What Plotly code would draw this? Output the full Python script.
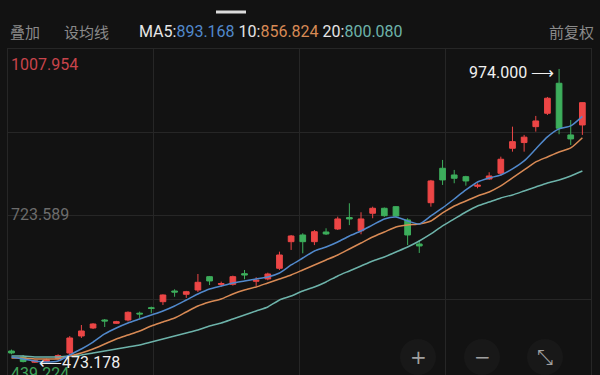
import plotly.graph_objects as go

# ---------------- data ----------------
idx = list(range(1, 51))
opens = [493.6, 483.4, 474.5, 475.8, 481.0, 490.2, 519.2, 532.8, 546.4, 540.8,
         546.4, 558.0, 567.4, 577.6, 595.8, 590.2, 597.5, 620.2, 607.0, 607.2,
         625.3, 612.4, 616.3, 634.5, 679.8, 691.2, 679.8, 696.3, 701.4, 720.9,
         698.5, 728.2, 736.7, 739.4, 716.8, 675.9, 746.2, 804.8, 793.4, 790.5,
         774.2, 786.6, 796.3, 838.9, 848.6, 875.7, 898.5, 949.6, 861.6, 878.6]
highs = [496.0, 486.8, 478.5, 480.5, 488.0, 519.0, 537.9, 541.0, 548.0, 545.0,
         561.0, 560.7, 569.2, 590.0, 598.7, 596.0, 624.8, 621.4, 611.7, 622.0,
         631.6, 619.2, 627.0, 662.8, 691.2, 694.1, 699.7, 702.6, 722.4, 745.2,
         729.9, 739.4, 738.0, 740.5, 719.7, 682.7, 785.0, 819.0, 802.0, 792.0,
         779.3, 798.0, 824.6, 875.7, 861.6, 894.0, 926.3, 974.0, 887.0, 917.0]
lows = [488.0, 474.2, 473.178, 474.5, 479.0, 486.8, 515.8, 531.0, 534.5, 540.0,
        544.0, 549.3, 557.9, 572.0, 586.0, 584.0, 594.0, 606.0, 603.0, 605.0,
        615.8, 604.4, 614.0, 631.6, 665.7, 660.0, 674.0, 691.2, 699.7, 708.0,
        692.4, 719.7, 722.0, 722.0, 674.0, 660.6, 739.4, 776.4, 779.3, 775.2,
        770.8, 785.0, 792.2, 833.1, 833.1, 867.2, 895.6, 862.8, 844.5, 861.6]
closes = [490.2, 475.6, 477.0, 478.6, 485.8, 515.8, 527.7, 539.6, 544.8, 543.5,
          559.5, 556.7, 566.0, 589.0, 594.0, 594.6, 610.6, 612.9, 608.5, 620.2,
          623.1, 614.1, 624.8, 657.1, 689.5, 679.8, 696.8, 692.9, 718.5, 718.5,
          718.5, 736.7, 724.1, 723.6, 691.2, 672.5, 783.2, 785.0, 787.8, 783.2,
          775.9, 791.7, 820.2, 850.2, 857.8, 885.4, 924.1, 873.0, 854.8, 916.6]

ma5 = [483.4, 480.0, 476.6, 474.9, 476.6, 486.8, 497.0, 508.9, 522.6, 532.8,
       541.3, 548.1, 554.9, 561.8, 570.3, 580.5, 590.7, 599.2, 604.3, 609.5,
       612.9, 616.3, 619.7, 626.5, 640.1, 652.0, 664.0, 670.8, 679.3, 689.5,
       698.0, 708.3, 718.5, 721.9, 715.1, 710.0, 723.6, 737.2, 752.5, 767.9,
       781.5, 788.3, 793.4, 803.7, 817.3, 837.7, 858.2, 871.8, 876.9, 893.168]
ma10 = [481.7, 481.7, 480.0, 480.0, 480.0, 485.1, 490.2, 497.0, 505.5, 514.1,
        520.9, 527.7, 536.2, 543.0, 549.8, 560.1, 570.3, 577.1, 582.2, 590.7,
        597.5, 602.6, 609.5, 616.3, 623.1, 631.6, 640.1, 648.6, 657.2, 667.4,
        677.6, 687.8, 696.3, 704.9, 708.3, 710.0, 715.1, 728.7, 740.6, 749.1,
        757.7, 764.5, 774.7, 788.3, 801.9, 815.6, 824.1, 832.6, 839.4, 856.824]
ma20 = [485.1, 485.1, 483.4, 483.4, 483.4, 485.1, 486.8, 490.2, 493.6, 497.0,
        500.4, 503.8, 508.9, 514.1, 519.2, 524.3, 529.4, 536.2, 541.3, 548.1,
        554.9, 561.8, 568.6, 580.5, 587.3, 595.8, 602.6, 611.2, 621.4, 629.9,
        638.4, 646.9, 653.7, 662.3, 670.8, 681.0, 692.9, 706.6, 718.5, 730.4,
        740.6, 747.4, 754.3, 759.4, 766.2, 773.0, 779.8, 784.9, 791.7, 800.080]

ma_labels = ["893.168", "856.824", "800.080"]
axis_top, axis_mid, axis_bot = 1007.954, 723.589, 439.224
high_label, low_label = "974.000", "473.178"
high_idx, low_idx = 48, 3

# ---------------- styling ----------------
BG = "#121212"
GRID = "#262626"
RED = "#EC4646"
GREEN = "#3DAE5C"
C_MA5 = "#5189CC"
C_MA10 = "#D88A55"
C_MA20 = "#6DB3AA"

W, H = 600, 375
L, R, T, B = 8, 591, 49, 375


def xp(px):
    return (px - L) / (R - L)


def yp(py):
    return (B - py) / (B - T)


x_lo, x_hi = 0.70, 50.74
y_lo, y_hi = 452.73, axis_top
q = (axis_top - axis_bot) / 4
ygrid = [axis_bot + q * k for k in range(1, 5)]
xq = (x_hi - x_lo) / 4
xgrid = [x_lo + xq * k for k in range(1, 4)]


def ypv(v):
    # price value -> paper coordinate (works outside the visible range)
    return (v - y_lo) / (y_hi - y_lo)


fig = go.Figure()

for vals, col in [(ma20, C_MA20), (ma10, C_MA10), (ma5, C_MA5)]:
    fig.add_trace(go.Scatter(x=idx, y=vals, mode="lines",
                             line=dict(color=col, width=1.5, shape="spline", smoothing=0.6),
                             hoverinfo="skip", showlegend=False))

fig.add_trace(go.Candlestick(
    x=idx, open=opens, high=highs, low=lows, close=closes,
    increasing=dict(line=dict(color=RED, width=1), fillcolor=RED),
    decreasing=dict(line=dict(color=GREEN, width=1), fillcolor=GREEN),
    whiskerwidth=0, showlegend=False))

fig.update_layout(
    width=W, height=H,
    margin=dict(l=L, r=W - R, t=T, b=H - B),
    paper_bgcolor=BG, plot_bgcolor=BG,
    showlegend=False,
    xaxis=dict(range=[x_lo, x_hi], showticklabels=False, ticks="",
               tickvals=xgrid, showgrid=True, gridcolor=GRID, gridwidth=1,
               zeroline=False, showline=True, linecolor=GRID, side="top",
               rangeslider=dict(visible=False), fixedrange=True),
    yaxis=dict(range=[y_lo, y_hi], showticklabels=False, ticks="",
               tickvals=ygrid, showgrid=True, gridcolor=GRID, gridwidth=1,
               zeroline=False, showline=True, linecolor=GRID, mirror=True,
               fixedrange=True),
    font=dict(family="Roboto, Noto Sans CJK SC", color="#dddddd"),
)

ann = []
# header row
ann.append(dict(text="叠加", x=xp(8), y=yp(31), xref="paper", yref="paper",
                xanchor="left", yanchor="middle", showarrow=False,
                font=dict(family="Noto Sans CJK SC", size=15, color="#8a8a8a")))
ann.append(dict(text="设均线", x=xp(62), y=yp(31), xref="paper", yref="paper",
                xanchor="left", yanchor="middle", showarrow=False,
                font=dict(family="Noto Sans CJK SC", size=15, color="#8a8a8a")))
ann.append(dict(text="前复权", x=xp(596), y=yp(31), xref="paper", yref="paper",
                xanchor="right", yanchor="middle", showarrow=False,
                font=dict(family="Noto Sans CJK SC", size=15, color="#8a8a8a")))
ma_text = (f"MA5:<span style='color:{C_MA5}'>{ma_labels[0]}</span> "
           f"10:<span style='color:{C_MA10}'>{ma_labels[1]}</span> "
           f"20:<span style='color:{C_MA20}'>{ma_labels[2]}</span>")
ann.append(dict(text=ma_text, x=xp(137), y=yp(31), xref="paper", yref="paper",
                xanchor="left", yanchor="middle", showarrow=False,
                font=dict(family="Roboto", size=16, color="#e6e6e6")))

# price axis labels
ann.append(dict(text=f"{axis_top:.3f}", x=xp(9), y=ypv(axis_top), xref="paper", yref="paper",
                xanchor="left", yanchor="top", yshift=-4, showarrow=False,
                font=dict(family="Roboto", size=16, color="#C8444B")))
ann.append(dict(text=f"{axis_mid:.3f}", x=xp(9), y=ypv(axis_mid), xref="paper", yref="paper",
                xanchor="left", yanchor="middle", yshift=1, showarrow=False,
                font=dict(family="Roboto", size=16, color="#6c6c6c")))
ann.append(dict(text=f"{axis_bot:.3f}", x=xp(9), y=ypv(axis_bot), xref="paper", yref="paper",
                xanchor="left", yanchor="bottom", yshift=-2, showarrow=False,
                font=dict(family="Roboto", size=16, color="#3FA45A")))

# extreme markers
ann.append(dict(text=f"{high_label} ⟶", x=high_idx, y=highs[high_idx - 1],
                xref="x", yref="y", xanchor="right", yanchor="middle",
                xshift=-3, yshift=-4, showarrow=False,
                font=dict(family="Roboto", size=16, color="#f0f0f0")))
ann.append(dict(text=f"⟵{low_label}", x=low_idx, y=lows[low_idx - 1],
                xref="x", yref="y", xanchor="left", yanchor="middle",
                xshift=2, yshift=0, showarrow=False,
                font=dict(family="Roboto", size=16, color="#f0f0f0")))

# zoom buttons
shapes = []
for cx, sym in [(418, "+"), (482, "−"), (545, "⤡")]:
    shapes.append(dict(type="circle", xref="paper", yref="paper",
                       x0=xp(cx - 18), x1=xp(cx + 18), y0=yp(357 + 18), y1=yp(357 - 18),
                       fillcolor="#181818", line=dict(width=0), layer="above"))
    ann.append(dict(text=sym, x=xp(cx), y=yp(357), xref="paper", yref="paper",
                    xanchor="center", yanchor="middle", showarrow=False,
                    font=dict(family="DejaVu Sans", size=20, color="#a0a0a0")))

# top handle bar
shapes.append(dict(type="line", xref="paper", yref="paper",
                   x0=xp(216), x1=xp(246), y0=yp(12), y1=yp(12),
                   line=dict(color="#dcdcdc", width=3)))

fig.update_layout(annotations=ann, shapes=shapes)
fig.write_html("out.html",
               config={"displayModeBar": False, "staticPlot": True},
               post_script="document.body.style.margin='0';"
                           "document.body.style.background='#121212';")
